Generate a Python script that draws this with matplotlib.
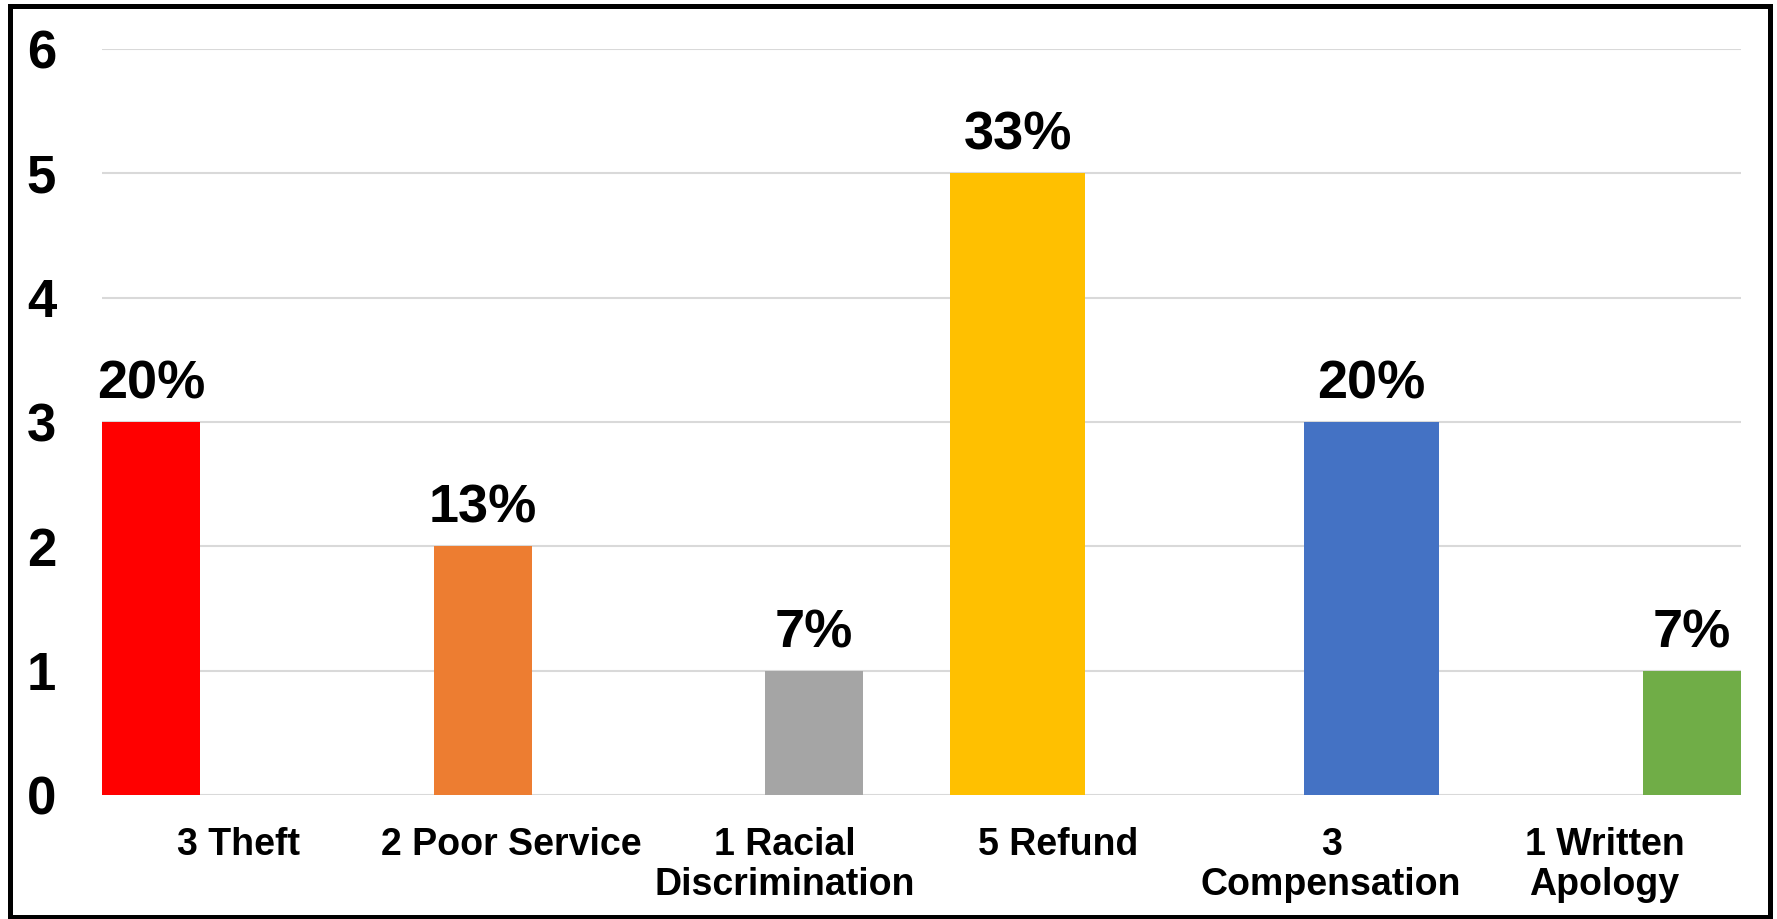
import matplotlib
matplotlib.use("Agg")
import matplotlib.pyplot as plt
from matplotlib.patches import Rectangle

# chart data
categories = ["3 Theft", "2 Poor Service", "1 Racial\nDiscrimination",
              "5 Refund", "3\nCompensation", "1 Written\nApology"]
counts = [3, 2, 1, 5, 3, 1]
pct_labels = ["20%", "13%", "7%", "33%", "20%", "7%"]
colors = ["#FF0000", "#ED7D31", "#A5A5A5", "#FFC000", "#4472C4", "#70AD47"]
y_ticks = [0, 1, 2, 3, 4, 5, 6]

# layout: bar offset inside its category slot and bar width (slot units)
bar_offsets = [-0.32, -0.106, 0.106, -0.148, 0.148, 0.321]
bar_widths = [0.359, 0.359, 0.359, 0.495, 0.495, 0.359]

plt.rcParams['font.family'] = ['Liberation Sans', 'DejaVu Sans']
plt.rcParams['font.weight'] = 'bold'

W, H = 1777, 919
fig = plt.figure(figsize=(W / 100, H / 100), dpi=100)
ax = fig.add_axes([102 / W, 1 - 795 / H, (1741 - 102) / W, (795 - 49) / H])

xpos = [i + off for i, off in enumerate(bar_offsets)]
bars = ax.bar(xpos, counts, width=bar_widths, color=colors, zorder=3)

for b, lab in zip(bars, pct_labels):
    ax.annotate(lab, (b.get_x() + b.get_width() / 2, b.get_height()),
                xytext=(0, 9), textcoords='offset points',
                ha='center', va='bottom', fontsize=39, fontweight='bold')

ax.set_xlim(-0.5, 5.5)
ax.set_ylim(0, 6)
ax.set_yticks(y_ticks)
ax.set_xticks(range(len(categories)))
ax.set_xticklabels(categories, fontsize=27, fontweight='bold', linespacing=1.15)
ax.tick_params(axis='y', length=0, pad=33, labelsize=38)
ax.tick_params(axis='x', length=0, pad=23)
ax.grid(axis='y', color='#D9D9D9', linewidth=1.5, zorder=0)
for s in ax.spines.values():
    s.set_visible(False)

# outer chart border
fig.patches.append(Rectangle((10 / W, 2 / H), 1760 / W, 911 / H,
                             transform=fig.transFigure, fill=False,
                             edgecolor='black', linewidth=3.6))

fig.savefig("out.png", dpi=100)
